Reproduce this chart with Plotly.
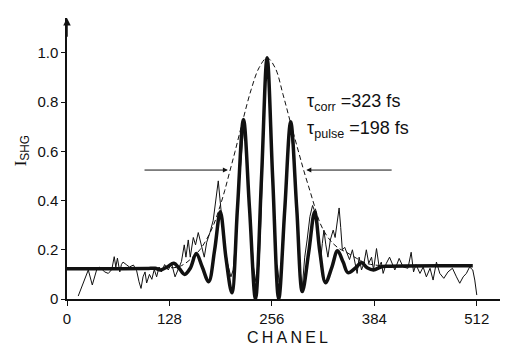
import plotly.graph_objects as go

# ---- data ----
thin_ch = [14, 20, 26.6, 31.6, 37, 41, 47, 51.6, 56, 59, 61, 63, 66, 68, 70, 74, 78, 83, 87, 90,
           92.5, 95, 97.5, 99.5, 103, 106, 109, 112, 115, 118, 122, 126.5, 130.6, 135, 139, 143,
           146.5, 148.6, 151.5, 154, 157.8, 160.6, 164, 168, 171.5, 174.5, 178.6, 182.7, 187, 189,
           191, 193, 196.5, 200.6, 204.8, 207.6, 210.7, 213, 216, 219, 221, 224, 227, 230, 233,
           236, 238, 240, 242, 245, 248, 250, 253, 256, 259, 261, 263, 265, 267, 270, 273, 276,
           279, 282, 285, 288, 291, 294, 297, 300, 303.5, 306.8, 309.7, 312.6, 315, 317.2, 319,
           321, 323.4, 326, 329, 332.6, 335, 337.6, 340, 342, 344, 347, 350, 353, 356.6, 359.6,
           362.5, 365, 368, 371, 374, 377, 380.5, 383, 386.7, 390, 392.7, 395, 399, 403, 409.6,
           415, 420, 426, 430, 433, 436, 441, 445, 449, 453.6, 457.4, 461.6, 465.8, 470.8, 476,
           481.6, 486.6, 490.7, 495, 499, 503, 507, 509.5, 512]
thin_val = [0.012, 0.06, 0.118, 0.057, 0.118, 0.13, 0.11, 0.104, 0.12, 0.172, 0.13, 0.166, 0.11,
            0.14, 0.15, 0.14, 0.13, 0.138, 0.115, 0.07, 0.043, 0.09, 0.11, 0.065, 0.10, 0.08, 0.12,
            0.09, 0.13, 0.11, 0.14, 0.118, 0.145, 0.09, 0.118, 0.152, 0.22, 0.17, 0.24, 0.17, 0.25,
            0.22, 0.27, 0.22, 0.17, 0.23, 0.27, 0.32, 0.415, 0.48, 0.41, 0.335, 0.226, 0.145, 0.09,
            0.118, 0.24, 0.375, 0.524, 0.63, 0.7, 0.62, 0.45, 0.28, 0.13, 0.07, 0.1, 0.14, 0.3, 0.6,
            0.9, 0.97, 0.85, 0.55, 0.28, 0.15, 0.13, 0.07, 0.09, 0.2, 0.4, 0.6, 0.71, 0.62, 0.45,
            0.27, 0.12, 0.05, 0.17, 0.24, 0.335, 0.38, 0.355, 0.28, 0.22, 0.17, 0.226, 0.28, 0.22,
            0.17, 0.24, 0.28, 0.25, 0.31, 0.37, 0.29, 0.2, 0.21, 0.185, 0.16, 0.2, 0.145, 0.104,
            0.17, 0.118, 0.145, 0.2, 0.145, 0.17, 0.118, 0.205, 0.13, 0.15, 0.104, 0.145, 0.17,
            0.118, 0.165, 0.13, 0.125, 0.19, 0.11, 0.14, 0.104, 0.13, 0.09, 0.125, 0.077, 0.15,
            0.104, 0.084, 0.11, 0.125, 0.09, 0.064, 0.09, 0.104, 0.13, 0.118, 0.077, 0.016]

fit_ch = [0, 60, 100, 110, 117, 125, 133.6, 140, 147, 154, 161.5, 169, 177, 184.5, 191.5, 198.5,
          206, 213, 220.5, 228, 235.5, 243, 250, 257, 264.5, 272, 279.5, 287, 294, 302, 309.5,
          316, 323, 331, 338, 345, 351, 360, 368, 375, 383, 392, 400, 507]
fit_val = [0.123, 0.123, 0.124, 0.125, 0.118, 0.13, 0.145, 0.125, 0.10, 0.125, 0.185, 0.13, 0.07,
           0.2, 0.355, 0.17, 0.025, 0.37, 0.73, 0.37, 0.0, 0.49, 0.98, 0.49, 0.0, 0.36, 0.72,
           0.37, 0.03, 0.19, 0.355, 0.19, 0.066, 0.13, 0.196, 0.15, 0.107, 0.125, 0.147, 0.127,
           0.118, 0.13, 0.133, 0.135]

env_ch = [110, 125, 139, 150, 157, 166, 174, 183, 191, 197, 203.5, 210, 220, 230, 240, 250, 260,
          270, 279, 290, 296, 303.5, 310, 316, 324, 332, 340, 349, 362, 374, 385, 395]
env_val = [0.125, 0.127, 0.13, 0.15, 0.17, 0.2, 0.24, 0.3, 0.375, 0.44, 0.52, 0.6, 0.73, 0.85,
           0.94, 0.98, 0.94, 0.83, 0.72, 0.59, 0.52, 0.44, 0.37, 0.31, 0.26, 0.227, 0.205, 0.19,
           0.165, 0.145, 0.138, 0.135]

x_ticks = [0, 128, 256, 384, 512]
y_ticks = [0, 0.2, 0.4, 0.6, 0.8, 1.0]
y_tick_labels = ["0", "0.2", "0.4", "0.6", "0.8", "1.0"]

fwhm_level = 0.524
fwhm_left = (95, 201)
fwhm_right = (407.5, 299)

FONT = "Liberation Sans, Arial, sans-serif"
INK = "#111111"

fig = go.Figure()
fig.add_trace(go.Scatter(x=thin_ch, y=thin_val, mode="lines",
                         line=dict(color=INK, width=1), hoverinfo="skip"))
fig.add_trace(go.Scatter(x=env_ch, y=env_val, mode="lines",
                         line=dict(color=INK, width=1, dash="5px,3px", shape="spline"),
                         hoverinfo="skip"))
fig.add_trace(go.Scatter(x=fit_ch, y=fit_val, mode="lines",
                         line=dict(color=INK, width=3.5, shape="spline", smoothing=1),
                         hoverinfo="skip"))

ann = []
# FWHM arrows
ann.append(dict(x=fwhm_left[1], y=fwhm_level, ax=fwhm_left[0], ay=fwhm_level,
                xref="x", yref="y", axref="x", ayref="y", text="", showarrow=True,
                arrowhead=2, arrowsize=1, arrowwidth=1, arrowcolor=INK))
ann.append(dict(x=fwhm_right[1], y=fwhm_level, ax=fwhm_right[0], ay=fwhm_level,
                xref="x", yref="y", axref="x", ayref="y", text="", showarrow=True,
                arrowhead=2, arrowsize=1, arrowwidth=1, arrowcolor=INK))
# axis arrow
ann.append(dict(x=0, y=1.142, ax=0, ay=1.06, xref="x", yref="y", axref="x", ayref="y",
                text="", showarrow=True, arrowhead=2, arrowsize=1, arrowwidth=1.5,
                arrowcolor=INK))
# labels
ann.append(dict(x=297, y=0.797, xref="x", yref="y", xanchor="left", yanchor="middle",
                text="τ<sub>corr</sub> =323 fs", showarrow=False,
                font=dict(family=FONT, size=18, color=INK)))
ann.append(dict(x=297, y=0.687, xref="x", yref="y", xanchor="left", yanchor="middle",
                text="τ<sub>pulse</sub> =198 fs", showarrow=False,
                font=dict(family=FONT, size=18, color=INK)))
ann.append(dict(x=0, y=0.60, xref="paper", yref="y", xshift=-45, xanchor="center",
                yanchor="middle", textangle=-90,
                text="<span style='font-family:Liberation Serif'>I</span><sub>SHG</sub>",
                showarrow=False, font=dict(family=FONT, size=17, color=INK)))
ann.append(dict(x=276, y=0, xref="x", yref="paper", yshift=-38, xanchor="center",
                yanchor="middle", text="C H A N E L".replace(" ", "\u2009"),
                showarrow=False, font=dict(family=FONT, size=16, color=INK)))

# the page body carries an 8 px margin, so the margins are trimmed by 8 px
fig.update_layout(
    width=508, height=347, autosize=False,
    margin=dict(l=59, r=8, t=10, b=56),
    paper_bgcolor="white", plot_bgcolor="white",
    showlegend=False,
    annotations=ann,
    xaxis=dict(range=[0, 551], tickvals=x_ticks, ticktext=[str(t) for t in x_ticks],
               showgrid=False, zeroline=False, showline=True, linecolor=INK, linewidth=1.5,
               ticks="outside", ticklen=5, tickcolor=INK, tickwidth=1, automargin=False,
               tickfont=dict(family=FONT, size=15, color=INK)),
    yaxis=dict(range=[0, 1.142], tickvals=y_ticks, ticktext=y_tick_labels,
               showgrid=False, zeroline=False, showline=True, linecolor=INK, linewidth=1.5,
               ticks="outside", ticklen=4, tickcolor=INK, tickwidth=1, automargin=False,
               tickfont=dict(family=FONT, size=15, color=INK)),
)

fig.write_html("out.html")
